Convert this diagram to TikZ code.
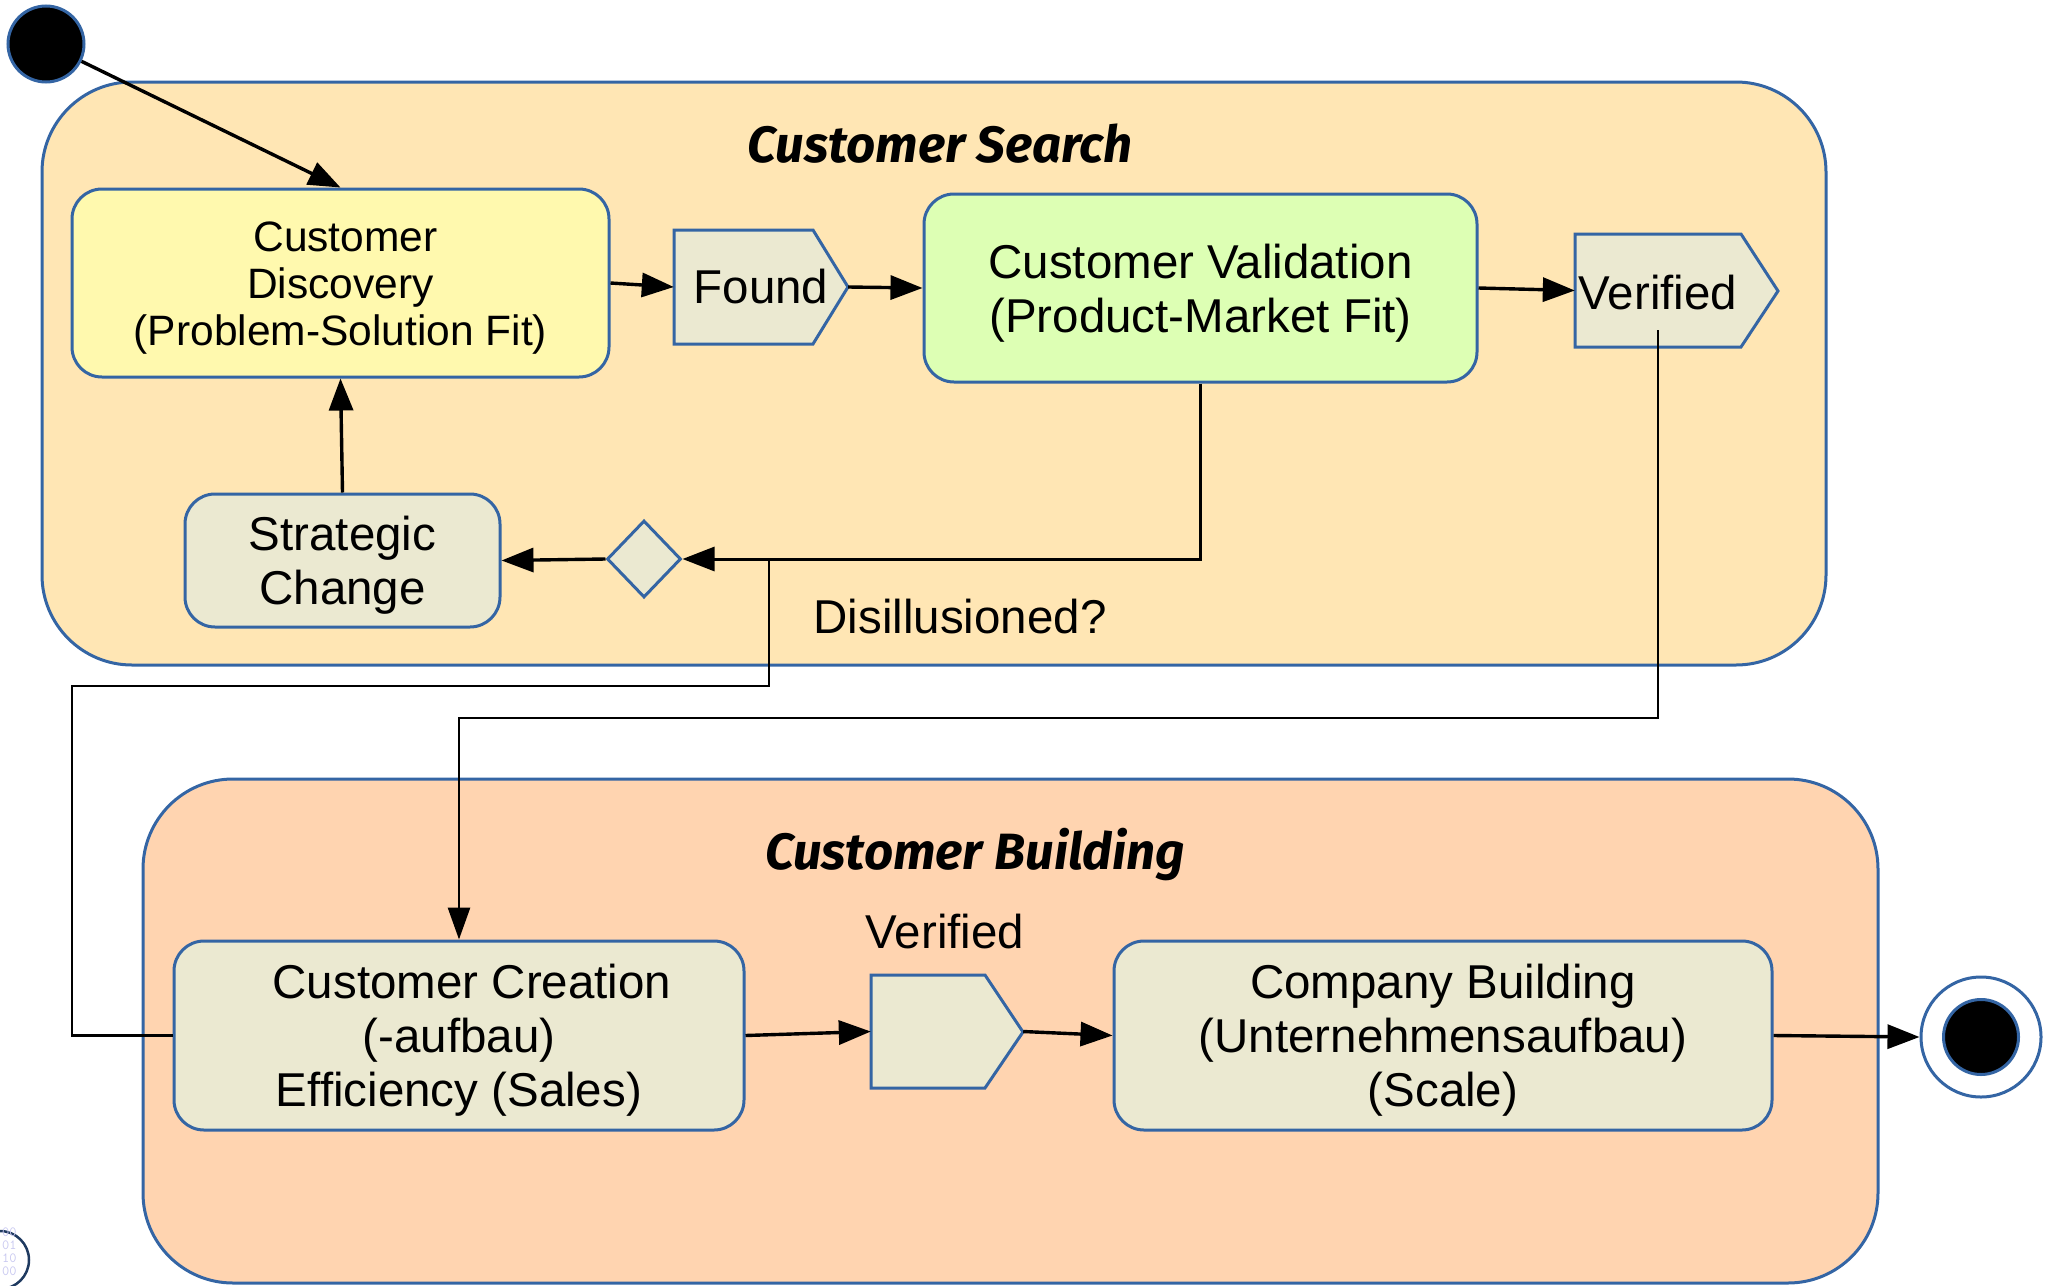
\documentclass[tikz,border=0pt]{standalone}
\usepackage{fontspec}
\setmainfont{Liberation Sans}
\newfontfamily\titlefont{Fira Sans}
\usetikzlibrary{arrows.meta,shapes.geometric}
\definecolor{bord}{HTML}{3465A4}
\definecolor{searchfill}{HTML}{FFE6B4}
\definecolor{buildfill}{HTML}{FFD4B0}
\definecolor{beige}{HTML}{EBE9D1}
\definecolor{discfill}{HTML}{FFF9AE}
\definecolor{valfill}{HTML}{DDFFB4}
\definecolor{logonavy}{HTML}{1F3A60}
\definecolor{logolight}{HTML}{C8C8F0}
\begin{document}
\begin{tikzpicture}[x=1pt,y=-1pt,
  box/.style={draw=bord, line width=3pt, rounded corners=30pt, fill=beige, inner sep=0pt},
  btxt/.style={align=center, inner sep=0pt, font=\fontsize{47.5}{54}\selectfont},
  grp/.style={draw=bord, line width=3pt, rounded corners=90pt},
  sig/.style={draw=bord, line width=3pt, fill=beige, line join=miter},
  conn/.style={line width=3.4pt, -{Triangle[length=32pt,width=24pt]}},
  route/.style={line width=2.8pt},
  lbl/.style={font=\fontsize{47.5}{54}\selectfont, inner sep=0pt},
  ttl/.style={font=\titlefont\bfseries\itshape\fontsize{51}{56}\selectfont, inner sep=0pt}
]
\useasboundingbox (0,0) rectangle (2053,1285);

% groups
\path[grp, fill=searchfill] (42,82) rectangle (1826,665);
\path[grp, fill=buildfill] (143,779) rectangle (1878,1283);
\node[ttl] (t1) at (940,144) {Customer Search};
\node[ttl] (t2) at (975,855) {Customer Building};

% logo artifact
\draw[logonavy, line width=2.5pt] (0,1260) circle (29pt);
\node[font=\ttfamily\fontsize{14}{13}\selectfont, text=logolight, align=left, inner sep=0pt, anchor=north west] (logo) at (2,1228) {00\\01\\10\\00};

% start / end
\node[circle, draw=bord, line width=3pt, fill=black, minimum size=76pt, inner sep=0pt] (start) at (46,44) {};
\node[circle, draw=bord, line width=3pt, fill=white, minimum size=120pt, inner sep=0pt] (endo) at (1981,1037) {};
\node[circle, draw=bord, line width=3pt, fill=black, minimum size=75pt, inner sep=0pt] (endi) at (1981,1037) {};

% states
\node[box, fill=discfill, minimum width=537pt, minimum height=188pt] (disc) at (340.5,283) {};
\node[btxt, font=\fontsize{42.5}{47}\selectfont] (disct) at ([yshift=-5pt]disc.center) {\hspace*{10pt}Customer\\Discovery\\(Problem-Solution Fit)};
\node[box, fill=valfill, minimum width=553pt, minimum height=188pt] (val) at (1200.5,288) {};
\node[btxt] (valt) at ([yshift=-5pt]val.center) {Customer Validation\\(Product-Market Fit)};
\node[box, minimum width=315pt, minimum height=133pt] (strat) at (342.5,560.5) {};
\node[btxt] (stratt) at ([yshift=-5pt]strat.center) {Strategic\\Change};
\node[box, minimum width=570pt, minimum height=189pt] (crea) at (459,1035.5) {};
\node[btxt] (creat) at ([yshift=-5pt]crea.center) {\hspace*{26pt}Customer Creation\\(-aufbau)\\Efficiency (Sales)};
\node[box, minimum width=658pt, minimum height=189pt] (comp) at (1443,1035.5) {};
\node[btxt] (compt) at ([yshift=-5pt]comp.center) {Company Building\\(Unternehmensaufbau)\\(Scale)};

% signals
\path[sig] (674,230) -- (813,230) -- (848,287) -- (813,344) -- (674,344) -- cycle;
\node[lbl, minimum width=174pt, minimum height=114pt] (found) at (761,287) {Found};
\path[sig] (1575,234) -- (1741,234) -- (1778,291) -- (1741,347) -- (1575,347) -- cycle;
\node[inner sep=0pt, minimum width=203pt, minimum height=113pt] (ver1) at (1676.5,290.5) {};
\node[lbl] (ver1t) at (1658,293) {Verified};
\path[sig] (871,975) -- (985,975) -- (1023,1032) -- (985,1088) -- (871,1088) -- cycle;
\node[inner sep=0pt, minimum width=152pt, minimum height=113pt] (ver2) at (947,1031.5) {};
\node[lbl] (ver2t) at (945,932) {Verified};

% decision
\node[diamond, draw=bord, line width=3pt, fill=beige, minimum width=74pt, minimum height=77pt, inner sep=0pt] (dec) at (644,559) {};
\node[lbl] (dis) at (960,617) {Disillusioned?};

% connectors
\draw[conn] (start) -- (disc.north);
\draw[conn] (disc.east) -- (found.west);
\draw[conn] (found.east) -- (val.west);
\draw[conn] (val.east) -- (ver1.west);
\draw[conn] (strat.north) -- (disc.south);
\draw[conn, line width=3pt] (val.south) |- (dec.east);
\draw[conn] (dec.west) -- (strat.east);
\coordinate (br) at (769,559);
\coordinate (brl) at (72,686);
\draw[route] (br) |- (brl) |- (crea.west);
\coordinate (v1s) at (1658,330);
\coordinate (v1b) at (1658,718);
\draw[route, -{Triangle[length=32pt,width=22pt]}] (v1s) -- (v1b) -| (crea.north);
\draw[conn] (crea.east) -- (ver2.west);
\draw[conn] (ver2.east) -- (comp.west);
\draw[conn] (comp.east) -- (endo.west);
\end{tikzpicture}
\end{document}
